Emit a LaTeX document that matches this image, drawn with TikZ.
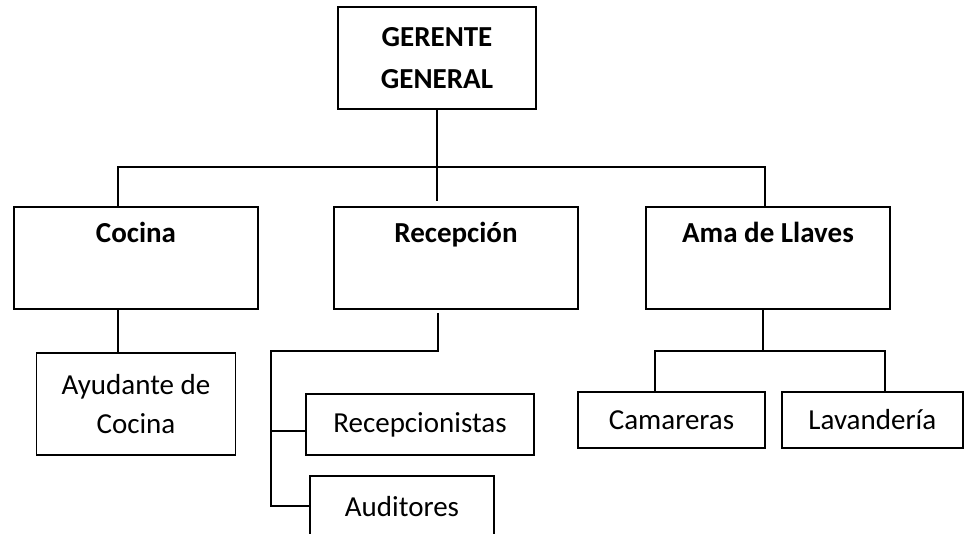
\documentclass[tikz,border=0pt]{standalone}
\usepackage{fontspec}
\setmainfont{Carlito}
\usetikzlibrary{positioning}

\begin{document}
\begin{tikzpicture}[
		x=1pt, y=1pt,
		every node/.style={align=center, font=\fontsize{29pt}{39pt}\selectfont},
		area/.style={rectangle, draw=black, line width=2pt, fill=white,
				minimum width=244pt, minimum height=102pt, font=\fontsize{29pt}{39pt}\selectfont\bfseries},
		puesto/.style={rectangle, draw=black, line width=1.8pt, fill=white,
				minimum height=61pt},
		linea/.style={line width=2pt, black},
		]

		\useasboundingbox (0,0) rectangle (964,533);
		\clip (0,0) rectangle (964,533);

		% Gerencia
		\node[area, minimum width=198pt, font=\fontsize{29pt}{42pt}\selectfont\bfseries]
		at (437,475) (gerente) {GERENTE\\GENERAL};

		% Áreas
		\node[area] at (136,275)        (cocina) {Cocina\\\strut};
		\node[area, right=74pt of cocina] (recep) {Recepción\\\strut};
		\node[area, right=66pt of recep]  (ama)   {Ama de Llaves\\\strut};

		% Puestos
		\node[puesto, minimum width=199pt, minimum height=102pt,
			below=42pt of cocina]                     (ayud)   {Ayudante de\\Cocina};
		\node[puesto, minimum width=228pt,
			below=83pt of recep, xshift=-36pt]         (recepc) {Recepcionistas};
		\node[puesto, minimum width=184pt,
			below=19pt of recepc, xshift=-18pt]        (audit)  {Auditores};
		\node[puesto, minimum width=187pt, minimum height=56pt,
			below=81pt of ama, xshift=-96.5pt]         (camar)  {Camareras};
		\node[puesto, minimum width=181pt, minimum height=56pt,
			right=15pt of camar]                       (lavan)  {Lavandería};

		% Conexiones gerencia - áreas
		\coordinate (barra) at ([yshift=-57pt]gerente.south);
		\draw[linea] (gerente.south) -- ([yshift=5pt]gerente.south |- recep.north);
		\draw[linea] ([xshift=-18pt]cocina.north) |- (barra) -| ([xshift=-3pt]ama.north);

		% Cocina
		\draw[linea] ([xshift=-18pt]cocina.south) -- ([xshift=-18pt]cocina.south |- ayud.north);

		% Recepción
		\coordinate (rbar) at ([xshift=-18pt, yshift=-41pt]recep.south);
		\coordinate (resq) at ([xshift=-34pt]recepc.west |- rbar);
		\coordinate (rstub) at ([yshift=-7pt]recepc.west);
		\draw[linea] ([xshift=-18pt, yshift=-3pt]recep.south) -- (rbar) -- (resq) |- (audit.west);
		\draw[linea] (resq |- rstub) -- (rstub);

		% Ama de Llaves
		\coordinate (abar) at ([xshift=-5pt, yshift=-41pt]ama.south);
		\draw[linea] ([xshift=-5pt]ama.south) -- (abar);
		\draw[linea] ([xshift=-17pt]camar.north) |- (abar) -| ([xshift=13pt]lavan.north);

	\end{tikzpicture}
\end{document}
